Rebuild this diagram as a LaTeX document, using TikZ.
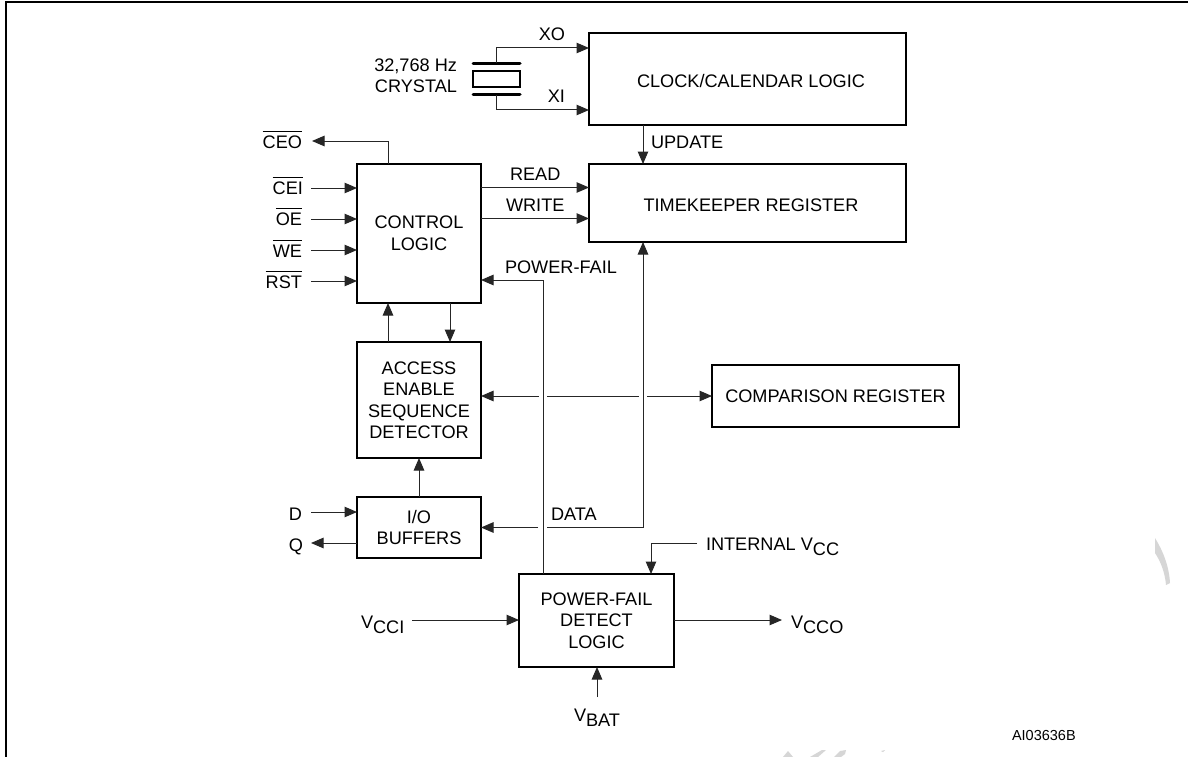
\documentclass[tikz,border=0pt]{standalone}
\usepackage{fontspec}
\setmainfont{Liberation Sans}
\usetikzlibrary{arrows.meta}
\newcommand\ovbar[1]{\vbox{\hrule height .8pt \kern 3.8pt \hbox{#1}}}
\newcommand\subv[2]{#1\raisebox{-5pt}{#2}}
\tikzset{
  box/.style={draw=black,line width=2.6pt,fill=white,inner sep=0pt,outer sep=0pt,align=center,font=\fontsize{18.15}{21.5}\selectfont},
  lab/.style={inner sep=0pt,outer sep=0pt,font=\fontsize{18.15}{21.5}\selectfont},
  labr/.style={lab,anchor=base east},
  labl/.style={lab,anchor=base west},
  labc/.style={lab,anchor=base},
  wire/.style={line width=1pt,draw=black!85},
  arr/.style={wire,-{Triangle[length=12.5pt,width=10.5pt]}},
  barr/.style={wire,{Triangle[length=12.5pt,width=10.5pt]}-},
  plate/.style={line width=3pt,line cap=round},
  wm/.style={fill=black!16,draw=none}
}
\begin{document}
\begin{tikzpicture}[x=1pt,y=-1pt]
\useasboundingbox (0,0) rectangle (1188,757);
\fill[white] (0,0) rectangle (1188,757);
% page frame
\draw[line width=2pt] (6,757) -- (6,2) -- (1188,2);
% faint watermark remains
\fill[wm] (1155,538) .. controls (1163,551) and (1169,566) .. (1170,583) -- (1166,585) .. controls (1165,573) and (1161,562) .. (1155,553) -- cycle;
\fill[wm] (783,757) -- (788,751) -- (793,757) -- cycle;
\fill[wm] (810,757) -- (822,750) -- (826,750) -- (818,757) -- cycle;
\fill[wm] (834,757) -- (840,751) -- (846,750) -- (845,754) -- (841,757) -- cycle;
\fill[wm] (881,751) -- (885,750) -- (883,752) -- cycle;
% blocks
\node[box,minimum width=317pt,minimum height=92pt] (clock) at (747.5,79) {};
\node[labc] (clockt) at (751,88) {CLOCK/CALENDAR LOGIC};
\node[box,minimum width=317pt,minimum height=78pt] (tk) at (747.5,203) {};
\node[labc] (tkt) at (751,211) {TIMEKEEPER REGISTER};
\node[box,minimum width=124pt,minimum height=139pt] (ctrl) at (419,233.5) {CONTROL\\LOGIC};
\node[box,minimum width=124pt,minimum height=116pt] (access) at (419,400) {ACCESS\\ENABLE\\SEQUENCE\\DETECTOR};
\node[box,minimum width=124pt,minimum height=61pt] (io) at (419,527.5) {I/O\\BUFFERS};
\node[box,minimum width=155pt,minimum height=93pt] (pf) at (596.5,620.5) {POWER-FAIL\\DETECT\\LOGIC};
\node[box,minimum width=247pt,minimum height=62pt] (cmp) at (835.5,396) {COMPARISON REGISTER};
% crystal
\node[draw=black,line width=2pt,inner sep=0pt,outer sep=0pt,minimum width=47pt,minimum height=16pt] (xtal) at (496.5,79) {};
\coordinate (pt) at (496,63.5);
\coordinate (pb) at (496,95);
\draw[plate] (473,63.5) -- (520,63.5);
\draw[plate] (473,95) -- (520,95);
\draw[arr] (pt) |- (clock.west |- 0,48);
\draw[arr] (pb) |- (clock.west |- 0,110);
% labels
\node[labr] (l32) at (457,72) {32,768 Hz};
\node[labr] (lcr) at (457,93) {CRYSTAL};
\node[labr] (lxo) at (565,41) {XO};
\node[labr] (lxi) at (565,103) {XI};
\node[labl] (lup) at (651,149) {UPDATE};
\node[labl] (lrd) at (510,180) {READ};
\node[labl] (lwr) at (506,211) {WRITE};
\node[labl] (lpf) at (505,273) {POWER-FAIL};
\node[labl] (ldt) at (551,520) {DATA};
\node[labr] (lceo) at (302,148) {\ovbar{CEO}};
\node[labr] (lcei) at (303,194) {\ovbar{CEI}};
\node[labr] (loe) at (302,225.5) {\ovbar{OE}};
\node[labr] (lwe) at (302,257) {\ovbar{WE}};
\node[labr] (lrst) at (302,288) {\ovbar{RST}};
\node[labr] (ld) at (302,520) {D};
\node[labr] (lq) at (303,551) {Q};
\node[labl] (lvi) at (361,628) {\subv{V}{CCI}};
\node[labl] (lvo) at (791,628) {\subv{V}{CCO}};
\node[labl] (lvb) at (574,721) {\subv{V}{BAT}};
\node[labl] (lint) at (706,550) {INTERNAL \subv{V}{CC}};
\node[lab,anchor=base west,font=\fontsize{14.5}{16}\selectfont] (lai) at (1012,740) {AI03636B};
% free ends
\coordinate (sceo) at (312,141);
\coordinate (scei) at (311,188);
\coordinate (soe) at (311,219);
\coordinate (swe) at (311,250);
\coordinate (srst) at (311,281);
\coordinate (sd) at (311,512);
\coordinate (sq) at (311,543);
\coordinate (svi) at (412,620);
\coordinate (svo) at (782,620);
\coordinate (svb) at (597,697);
\coordinate (sint) at (697,543);
\coordinate (upx) at (643,0);
% control connectors
\draw[arr] (388,164) |- (sceo);
\draw[arr] (scei) -- (ctrl.west |- scei);
\draw[arr] (soe) -- (ctrl.west |- soe);
\draw[arr] (swe) -- (ctrl.west |- swe);
\draw[arr] (srst) -- (ctrl.west |- srst);
\draw[arr] (ctrl.east |- 0,187.5) -- (tk.west |- 0,187.5);
\draw[arr] (ctrl.east |- 0,218.5) -- (tk.west |- 0,218.5);
\draw[arr] (clock.south -| upx) -- (tk.north -| upx);
% power-fail
\draw[arr] (pf.north -| 543,0) -- (543,280) -- (ctrl.east |- 0,280);
% access/control/io
\draw[arr] (access.north -| 388,0) -- (ctrl.south -| 388,0);
\draw[arr] (ctrl.south -| 450,0) -- (access.north -| 450,0);
\draw[arr] (io.north) -- (access.south);
% comparison bus with gaps
\coordinate (g1) at (539,396);
\coordinate (g2) at (547,396);
\coordinate (g3) at (639,396);
\coordinate (g4) at (647,396);
\draw[barr] (access.east |- g1) -- (g1);
\draw[wire] (g2) -- (g3);
\draw[arr] (g4) -- (cmp.west);
% data bus
\coordinate (d1) at (538,527.5);
\coordinate (d2) at (547,527.5);
\draw[arr] (d1) -- (io.east);
\draw[arr] (d2) -- (643,527.5) -- (tk.south -| 643,0);
% io
\draw[arr] (sd) -- (io.west |- sd);
\draw[arr] (io.west |- sq) -- (sq);
% power block
\draw[arr] (svi) -- (pf.west |- svi);
\draw[arr] (pf.east |- svo) -- (svo);
\draw[arr] (svb) -- (pf.south -| svb);
\draw[arr] (sint) -- (651,543) -- (pf.north -| 651,0);
\end{tikzpicture}
\end{document}
